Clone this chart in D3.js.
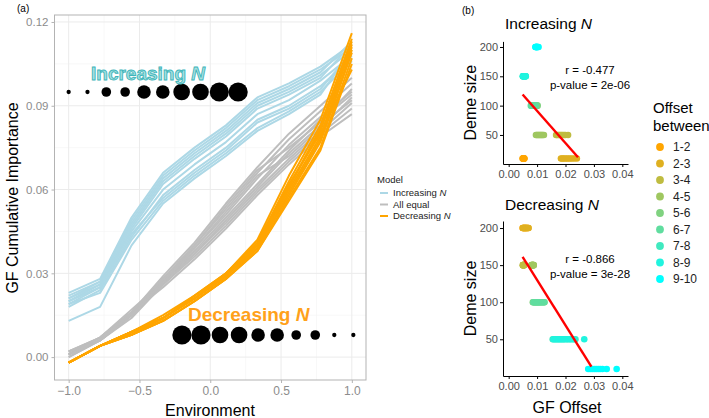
<!DOCTYPE html>
<html><head><meta charset="utf-8">
<script src="https://cdn.jsdelivr.net/npm/d3@7"></script>
<style>
body{margin:0;background:#fff;}
svg{display:block;font-family:"Liberation Sans",Arial,sans-serif;}
</style></head><body>
<svg id="c" width="709" height="418"></svg>
<script>
// ---------- DATA ----------
const envX = [-1, -0.778, -0.556, -0.333, -0.111, 0.111, 0.333, 0.556, 0.778, 1];
const modelNames = ["Increasing N", "All equal", "Decreasing N"];
const increasingLines = [
  [0.023,0.028,0.050,0.066,0.075,0.083,0.093,0.098,0.104,0.112],
  [0.022,0.027,0.049,0.065,0.074,0.082,0.092,0.097,0.103,0.111],
  [0.021,0.027,0.048,0.064,0.073,0.081,0.091,0.096,0.102,0.113],
  [0.020,0.026,0.047,0.063,0.072,0.080,0.090,0.095,0.101,0.110],
  [0.019,0.025,0.046,0.062,0.071,0.079,0.089,0.094,0.100,0.112],
  [0.021,0.026,0.045,0.060,0.069,0.077,0.087,0.092,0.099,0.108],
  [0.018,0.024,0.043,0.058,0.067,0.075,0.085,0.090,0.097,0.107],
  [0.020,0.025,0.044,0.057,0.066,0.074,0.084,0.089,0.096,0.109],
  [0.019,0.023,0.042,0.056,0.065,0.073,0.082,0.088,0.095,0.106],
  [0.013,0.018,0.040,0.055,0.064,0.072,0.081,0.087,0.094,0.110]
];
const equalLines = [
  [0.002,0.007,0.016,0.029,0.041,0.055,0.068,0.080,0.090,0.100],
  [0.001,0.007,0.016,0.028,0.040,0.053,0.066,0.078,0.088,0.098],
  [0.001,0.006,0.015,0.028,0.039,0.051,0.064,0.076,0.086,0.095],
  [0.000,0.006,0.015,0.027,0.038,0.050,0.062,0.074,0.085,0.094],
  [0.002,0.007,0.017,0.027,0.037,0.049,0.061,0.073,0.083,0.092],
  [0.001,0.006,0.014,0.026,0.037,0.048,0.060,0.071,0.081,0.091],
  [0.000,0.006,0.015,0.026,0.036,0.047,0.059,0.070,0.080,0.089],
  [0.001,0.007,0.016,0.025,0.035,0.046,0.058,0.069,0.079,0.087],
  [0.002,0.006,0.015,0.027,0.039,0.052,0.065,0.072,0.082,0.093],
  [0.001,0.006,0.016,0.028,0.040,0.054,0.067,0.075,0.084,0.096]
];
const decreasingLines = [
  [-0.002,0.004,0.009,0.015,0.022,0.030,0.042,0.065,0.085,0.116],
  [-0.002,0.004,0.009,0.014,0.022,0.030,0.041,0.063,0.083,0.114],
  [-0.002,0.004,0.009,0.014,0.021,0.029,0.040,0.061,0.081,0.113],
  [-0.002,0.004,0.009,0.014,0.021,0.029,0.040,0.060,0.079,0.112],
  [-0.002,0.004,0.008,0.014,0.021,0.029,0.039,0.059,0.078,0.110],
  [-0.002,0.004,0.008,0.013,0.020,0.028,0.039,0.058,0.077,0.109],
  [-0.002,0.004,0.008,0.013,0.020,0.028,0.038,0.057,0.075,0.107],
  [-0.002,0.004,0.008,0.013,0.020,0.028,0.038,0.056,0.074,0.105],
  [-0.002,0.004,0.009,0.014,0.021,0.029,0.041,0.062,0.080,0.103],
  [-0.002,0.004,0.009,0.014,0.021,0.030,0.040,0.061,0.082,0.111]
];
const demeSizesIncreasing = [10,10,50,50,100,100,150,150,200,200];
const demeSizesDecreasing = [200,200,150,150,100,100,50,50,10,10];
const envTicks = [-1.0,-0.5,0.0,0.5,1.0];
const importanceTicks = [0.00,0.03,0.06,0.09,0.12];

const offsetLabels = ["1-2","2-3","3-4","4-5","5-6","6-7","7-8","8-9","9-10"];
// GF offset values per offset class (10 replicates), y = deme size
const incDeme = [10,10,50,50,100,100,150,150,200];
const incOffsets = [
  [0.0049,0.0050,0.0051,0.0052,0.0052,0.0053,0.0053,0.0054,0.0055,0.0055],
  [0.0184,0.0188,0.0193,0.0198,0.0204,0.0210,0.0216,0.0223,0.0231,0.0240],
  [0.0167,0.0170,0.0174,0.0178,0.0182,0.0186,0.0190,0.0195,0.0200,0.0209],
  [0.0096,0.0099,0.0102,0.0105,0.0108,0.0111,0.0114,0.0117,0.0120,0.0124],
  [0.0085,0.0087,0.0089,0.0091,0.0093,0.0095,0.0097,0.0099,0.0100,0.0102],
  [0.0078,0.0080,0.0082,0.0084,0.0086,0.0088,0.0090,0.0092,0.0094,0.0095],
  [0.0050,0.0051,0.0052,0.0053,0.0054,0.0055,0.0056,0.0057,0.0058,0.0060],
  [0.0050,0.0051,0.0052,0.0053,0.0054,0.0055,0.0056,0.0057,0.0058,0.0060],
  [0.0094,0.0095,0.0096,0.0097,0.0098,0.0099,0.0100,0.0101,0.0103,0.0105]
];
const decDeme = [200,200,150,150,100,100,50,50,10];
const decOffsets = [
  [0.0049,0.0051,0.0053,0.0055,0.0057,0.0059,0.0061,0.0063,0.0066,0.0069],
  [0.0050,0.0052,0.0054,0.0056,0.0058,0.0060,0.0062,0.0064,0.0067,0.0070],
  [0.0050,0.0050,0.0051,0.0051,0.0052,0.0052,0.0053,0.0053,0.0054,0.0054],
  [0.0080,0.0081,0.0082,0.0083,0.0084,0.0085,0.0086,0.0087,0.0088,0.0088],
  [0.0085,0.0089,0.0093,0.0097,0.0101,0.0105,0.0109,0.0114,0.0120,0.0126],
  [0.0087,0.0091,0.0095,0.0099,0.0103,0.0107,0.0111,0.0116,0.0121,0.0125],
  [0.0155,0.0163,0.0171,0.0179,0.0187,0.0195,0.0205,0.0215,0.0225,0.0235],
  [0.0158,0.0166,0.0174,0.0182,0.0190,0.0198,0.0208,0.0218,0.0230,0.0266],
  [0.0280,0.0287,0.0294,0.0301,0.0308,0.0315,0.0322,0.0330,0.0345,0.0380]
];
const fitInc = {x:[0.0049,0.0244], y:[119,12]};
const fitDec = {x:[0.0049,0.0291], y:[161,13]};
const statsInc = ["r = -0.477","p-value = 2e-06"];
const statsDec = ["r = -0.866","p-value = 3e-28"];
const offsetTicks = [0.00,0.01,0.02,0.03,0.04];
const demeTicks = [50,100,150,200];

// ---------- DRAW ----------
const svg = d3.select("#c");
const FONT = '"Liberation Sans",Arial,sans-serif';

// ===== Panel (a) =====
const x = d3.scaleLinear().domain([-1.1,1.1]).range([54.5,366]);
const y = d3.scaleLinear().domain([-0.0082,0.1225]).range([380,15]);
const gA = svg.append("g");

// grid
const minorX = [-0.75,-0.25,0.25,0.75], minorY=[0.015,0.045,0.075,0.105];
gA.selectAll(".mx").data(minorX).join("line")
  .attr("x1",d=>x(d)).attr("x2",d=>x(d)).attr("y1",15).attr("y2",380)
  .attr("stroke","#f4f4f4").attr("stroke-width",0.6);
gA.selectAll(".my").data(minorY).join("line")
  .attr("y1",d=>y(d)).attr("y2",d=>y(d)).attr("x1",54.5).attr("x2",366)
  .attr("stroke","#f4f4f4").attr("stroke-width",0.6);
gA.selectAll(".Mx").data(envTicks).join("line")
  .attr("x1",d=>x(d)).attr("x2",d=>x(d)).attr("y1",15).attr("y2",380)
  .attr("stroke","#ebebeb").attr("stroke-width",1);
gA.selectAll(".My").data(importanceTicks).join("line")
  .attr("y1",d=>y(d)).attr("y2",d=>y(d)).attr("x1",54.5).attr("x2",366)
  .attr("stroke","#ebebeb").attr("stroke-width",1);

const line = d3.line().x((d,i)=>x(envX[i])).y(d=>y(d));
const lineSets = [[increasingLines,"#add8e6"],[equalLines,"#bebebe"],[decreasingLines,"#ffa500"]];
lineSets.forEach(([set,col])=>{
  gA.append("g").selectAll("path").data(set).join("path")
    .attr("d",line).attr("fill","none").attr("stroke",col)
    .attr("stroke-width",2).attr("stroke-linejoin","round");
});

// dots rows
const rScale = d3.scaleSqrt().domain([0,200]).range([0,9.6]);
gA.append("g").selectAll("circle").data(demeSizesIncreasing).join("circle")
  .attr("cx",(d,i)=>x(-1 + i*0.133)).attr("cy",92).attr("r",d=>rScale(d)).attr("fill","#000");
gA.append("g").selectAll("circle").data(demeSizesDecreasing).join("circle")
  .attr("cx",(d,i)=>x(-0.2 + i*0.1345)).attr("cy",335).attr("r",d=>rScale(d)).attr("fill","#000");

// labels
const tInc = gA.append("text").attr("x",91).attr("y",80)
  .attr("font-size",19).attr("font-weight","bold")
  .attr("fill","#a6e0e0").attr("stroke","#3db5ba").attr("stroke-width",0.9);
tInc.append("tspan").text("Increasing ");
tInc.append("tspan").attr("font-style","italic").text("N");
const tDec = gA.append("text").attr("x",188).attr("y",321)
  .attr("font-size",19).attr("font-weight","bold").attr("fill","#ffa11a");
tDec.append("tspan").text("Decreasing ");
tDec.append("tspan").attr("font-style","italic").text("N");

// border
gA.append("rect").attr("x",54.5).attr("y",15).attr("width",366-54.5).attr("height",365)
  .attr("fill","none").attr("stroke","#b3b3b3").attr("stroke-width",1);

// axes
const axL = gA.append("g").attr("transform","translate(54.5,0)")
  .call(d3.axisLeft(y).tickValues(importanceTicks).tickFormat(d3.format(".2f")).tickSize(3).tickSizeOuter(0));
axL.select(".domain").remove();
axL.selectAll("line").attr("stroke","#b3b3b3");
axL.selectAll("text").attr("fill","#8c8c8c").attr("font-size",11.5).attr("font-family",FONT).attr("x",-6);
const axB = gA.append("g").attr("transform","translate(0,380)")
  .call(d3.axisBottom(x).tickValues(envTicks).tickFormat(d3.format(".1f")).tickSize(3).tickSizeOuter(0));
axB.select(".domain").remove();
axB.selectAll("line").attr("stroke","#b3b3b3");
axB.selectAll("text").attr("fill","#8c8c8c").attr("font-size",12).attr("font-family",FONT).attr("y",6);

gA.append("text").attr("x",210).attr("y",416).attr("text-anchor","middle")
  .attr("font-size",16).attr("fill","#000").text("Environment");
gA.append("text").attr("transform","translate(18,198) rotate(-90)").attr("text-anchor","middle")
  .attr("font-size",16).attr("fill","#000").text("GF Cumulative Importance");
svg.append("text").attr("x",17).attr("y",12).attr("font-size",10).text("(a)");

// model legend
const lg = svg.append("g");
lg.append("text").attr("x",377).attr("y",183).attr("font-size",9.5).attr("fill","#222").text("Model");
lineSets.forEach(([set,col],i)=>{
  const yy = 193 + i*11.5;
  lg.append("line").attr("x1",380).attr("x2",388).attr("y1",yy).attr("y2",yy)
    .attr("stroke",col).attr("stroke-width",2);
  const t = lg.append("text").attr("x",393).attr("y",yy+3.3).attr("font-size",9.5).attr("fill","#222");
  const nm = modelNames[i];
  if (nm.endsWith(" N")) { t.append("tspan").text(nm.slice(0,-1)); t.append("tspan").attr("font-style","italic").text("N"); }
  else t.text(nm);
});

// ===== Panel (b) =====
svg.append("text").attr("x",462).attr("y",14).attr("font-size",10).text("(b)");
const colorOf = i => d3.interpolateRgb("orange","cyan")(i/8);

function scatter(yRange, offsets, demes, fit, stats, title, titleY, statY, showXTitle){
  const sx = d3.scaleLinear().domain([-0.002,0.042]).range([503,628]);
  const sy = d3.scaleLinear().domain([0.5,209.5]).range(yRange);
  const g = svg.append("g");
  offsets.forEach((arr,i)=>{
    g.append("g").selectAll("circle").data(arr).join("circle")
      .attr("cx",d=>sx(d)).attr("cy",sy(demes[i])).attr("r",3.3).attr("fill",colorOf(i));
  });
  g.append("line").attr("x1",sx(fit.x[0])).attr("x2",sx(fit.x[1]))
    .attr("y1",sy(fit.y[0])).attr("y2",sy(fit.y[1]))
    .attr("stroke","#ff0000").attr("stroke-width",2.4);
  const ax = g.append("g").attr("transform",`translate(503,0)`)
    .call(d3.axisLeft(sy).tickValues(demeTicks).tickSize(3).tickSizeOuter(0));
  ax.select(".domain").attr("stroke","#000");
  ax.selectAll("text").attr("fill","#4d4d4d").attr("font-size",11).attr("font-family",FONT).attr("x",-5);
  const bx = g.append("g").attr("transform",`translate(0,${yRange[0]})`)
    .call(d3.axisBottom(sx).tickValues(offsetTicks).tickFormat(d3.format(".2f")).tickSize(3).tickSizeOuter(0));
  bx.select(".domain").attr("stroke","#000");
  bx.selectAll("text").attr("fill","#4d4d4d").attr("font-size",11).attr("font-family",FONT).attr("y",6);
  const tt = g.append("text").attr("x",505).attr("y",titleY).attr("font-size",15.5).attr("fill","#000");
  tt.append("tspan").text(title.slice(0,-1));
  tt.append("tspan").attr("font-style","italic").text("N");
  stats.forEach((s,k)=>{
    g.append("text").attr("x",590).attr("y",statY+k*15).attr("text-anchor","middle")
      .attr("font-size",11.5).attr("fill","#000").text(s);
  });
  g.append("text").attr("transform",`translate(476,${(yRange[0]+yRange[1])/2}) rotate(-90)`)
    .attr("text-anchor","middle").attr("font-size",16).attr("fill","#000").text("Deme size");
  if (showXTitle) g.append("text").attr("x",567).attr("y",413).attr("text-anchor","middle")
    .attr("font-size",16).attr("fill","#000").text("GF Offset");
}
scatter([164,41.4], incOffsets, incDeme, fitInc, statsInc, "Increasing N", 29, 74, false);
scatter([376,221], decOffsets, decDeme, fitDec, statsDec, "Decreasing N", 210, 263, true);

// offset legend
const og = svg.append("g");
og.append("text").attr("x",653).attr("y",113).attr("font-size",15).text("Offset");
og.append("text").attr("x",653).attr("y",131).attr("font-size",15).text("between");
og.selectAll("circle").data(offsetLabels).join("circle")
  .attr("cx",660).attr("cy",(d,i)=>147+i*16.5).attr("r",3.9).attr("fill",(d,i)=>colorOf(i));
og.selectAll(".ol").data(offsetLabels).join("text")
  .attr("x",673).attr("y",(d,i)=>147+i*16.5+4.2).attr("font-size",12).attr("fill","#222").text(d=>d);
</script></body></html>
